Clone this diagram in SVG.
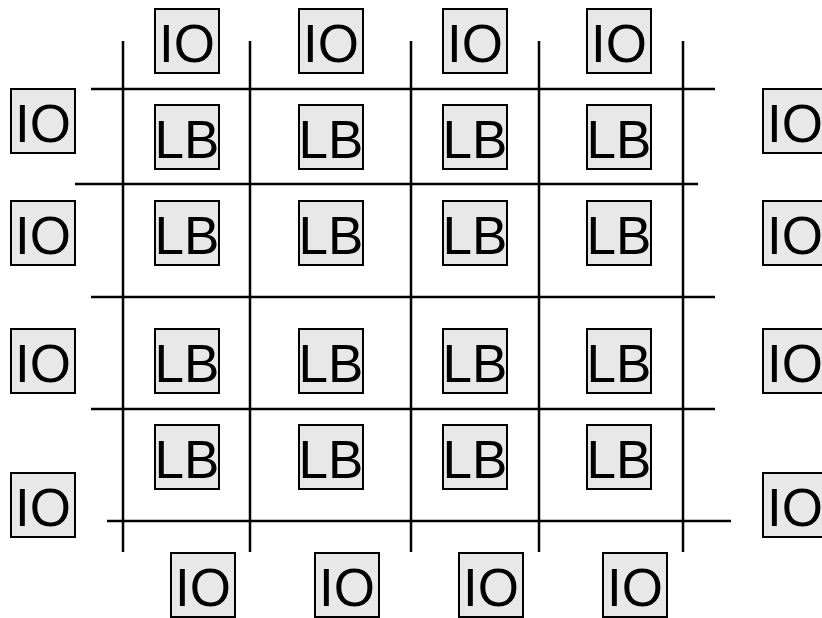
<svg xmlns="http://www.w3.org/2000/svg" width="822" height="618" viewBox="0 0 822 618">
<style>
.b{fill:#e8e8e8;stroke:#000;stroke-width:2}
.t{font-family:"Liberation Sans",Arial,sans-serif;font-size:53px;text-anchor:middle;fill:#000}
.w{stroke:#000;stroke-width:2.5;fill:none}
</style>
<rect width="822" height="618" fill="#fff"/>
<g id="wires">
<line class="w" x1="123" y1="41" x2="123" y2="552"/>
<line class="w" x1="250" y1="41" x2="250" y2="552"/>
<line class="w" x1="411" y1="41" x2="411" y2="552"/>
<line class="w" x1="539" y1="41" x2="539" y2="552"/>
<line class="w" x1="683" y1="41" x2="683" y2="552"/>
<line class="w" x1="91" y1="89" x2="715" y2="89"/>
<line class="w" x1="75" y1="184" x2="698" y2="184"/>
<line class="w" x1="91" y1="297" x2="715" y2="297"/>
<line class="w" x1="91" y1="409" x2="715" y2="409"/>
<line class="w" x1="107" y1="521" x2="731" y2="521"/>
</g>
<g id="io-t1"><rect class="b" x="155" y="9" width="64" height="64"/><text class="t" x="187" y="62">IO</text></g>
<g id="io-t2"><rect class="b" x="299" y="9" width="64" height="64"/><text class="t" x="331" y="62">IO</text></g>
<g id="io-t3"><rect class="b" x="443" y="9" width="64" height="64"/><text class="t" x="475" y="62">IO</text></g>
<g id="io-t4"><rect class="b" x="587" y="9" width="64" height="64"/><text class="t" x="619" y="62">IO</text></g>
<g id="io-b1"><rect class="b" x="171" y="553" width="64" height="64"/><text class="t" x="203" y="606">IO</text></g>
<g id="io-b2"><rect class="b" x="315" y="553" width="64" height="64"/><text class="t" x="347" y="606">IO</text></g>
<g id="io-b3"><rect class="b" x="459" y="553" width="64" height="64"/><text class="t" x="491" y="606">IO</text></g>
<g id="io-b4"><rect class="b" x="603" y="553" width="64" height="64"/><text class="t" x="635" y="606">IO</text></g>
<g id="io-l1"><rect class="b" x="11" y="89" width="64" height="64"/><text class="t" x="43" y="142">IO</text></g>
<g id="io-l2"><rect class="b" x="11" y="201" width="64" height="64"/><text class="t" x="43" y="254">IO</text></g>
<g id="io-l3"><rect class="b" x="11" y="329" width="64" height="64"/><text class="t" x="43" y="382">IO</text></g>
<g id="io-l4"><rect class="b" x="11" y="473" width="64" height="64"/><text class="t" x="43" y="526">IO</text></g>
<g id="io-r1"><rect class="b" x="763" y="89" width="64" height="64"/><text class="t" x="795" y="142">IO</text></g>
<g id="io-r2"><rect class="b" x="763" y="201" width="64" height="64"/><text class="t" x="795" y="254">IO</text></g>
<g id="io-r3"><rect class="b" x="763" y="329" width="64" height="64"/><text class="t" x="795" y="382">IO</text></g>
<g id="io-r4"><rect class="b" x="763" y="473" width="64" height="64"/><text class="t" x="795" y="526">IO</text></g>
<g id="lb-11"><rect class="b" x="155" y="105" width="64" height="64"/><text class="t" x="187" y="158">LB</text></g>
<g id="lb-12"><rect class="b" x="299" y="105" width="64" height="64"/><text class="t" x="331" y="158">LB</text></g>
<g id="lb-13"><rect class="b" x="443" y="105" width="64" height="64"/><text class="t" x="475" y="158">LB</text></g>
<g id="lb-14"><rect class="b" x="587" y="105" width="64" height="64"/><text class="t" x="619" y="158">LB</text></g>
<g id="lb-21"><rect class="b" x="155" y="201" width="64" height="64"/><text class="t" x="187" y="254">LB</text></g>
<g id="lb-22"><rect class="b" x="299" y="201" width="64" height="64"/><text class="t" x="331" y="254">LB</text></g>
<g id="lb-23"><rect class="b" x="443" y="201" width="64" height="64"/><text class="t" x="475" y="254">LB</text></g>
<g id="lb-24"><rect class="b" x="587" y="201" width="64" height="64"/><text class="t" x="619" y="254">LB</text></g>
<g id="lb-31"><rect class="b" x="155" y="329" width="64" height="64"/><text class="t" x="187" y="382">LB</text></g>
<g id="lb-32"><rect class="b" x="299" y="329" width="64" height="64"/><text class="t" x="331" y="382">LB</text></g>
<g id="lb-33"><rect class="b" x="443" y="329" width="64" height="64"/><text class="t" x="475" y="382">LB</text></g>
<g id="lb-34"><rect class="b" x="587" y="329" width="64" height="64"/><text class="t" x="619" y="382">LB</text></g>
<g id="lb-41"><rect class="b" x="155" y="425" width="64" height="64"/><text class="t" x="187" y="478">LB</text></g>
<g id="lb-42"><rect class="b" x="299" y="425" width="64" height="64"/><text class="t" x="331" y="478">LB</text></g>
<g id="lb-43"><rect class="b" x="443" y="425" width="64" height="64"/><text class="t" x="475" y="478">LB</text></g>
<g id="lb-44"><rect class="b" x="587" y="425" width="64" height="64"/><text class="t" x="619" y="478">LB</text></g>
</svg>
